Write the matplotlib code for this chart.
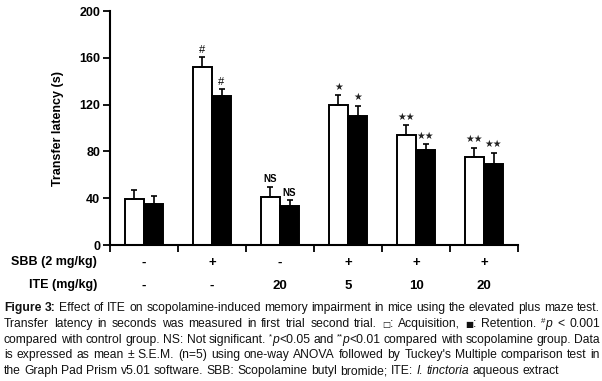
import numpy as np
import matplotlib.pyplot as plt
from matplotlib.transforms import blended_transform_factory

# values (transfer latency, s)
groups = ['Control', 'SBB', 'ITE 20', 'SBB+ITE 5', 'SBB+ITE 10', 'SBB+ITE 20']
acquisition = [39, 152, 41, 120, 94, 75]
acquisition_sem = [8, 8.5, 9, 8, 8.5, 8]
retention = [35, 127, 33, 110, 81, 69]
retention_sem = [7, 6, 5.5, 9, 5, 10]
acq_marks = ['', '#', 'NS', '*', '**', '**']
ret_marks = ['', '#', 'NS', '*', '**', '**']
sbb_row = ['-', '+', '-', '+', '+', '+']
ite_row = ['-', '-', '20', '5', '10', '20']
yticks = [0, 40, 80, 120, 160, 200]

caption = [
    "Figure 3: Effect of ITE on scopolamine-induced memory impairment in mice using the elevated plus maze test.",
    "Transfer latency in seconds was measured in first trial second trial. \u25a1: Acquisition, \u25a0: Retention. #p < 0.001",
    "compared with control group. NS: Not significant. *p<0.05 and **p<0.01 compared with scopolamine group. Data",
    "is expressed as mean \u00b1 S.E.M. (n=5) using one-way ANOVA followed by Tuckey's Multiple comparison test in",
    "the Graph Pad Prism v5.01 software. SBB: Scopolamine butyl bromide; ITE: I. tinctoria aqueous extract",
]
special = {
    'Figure': [('Figure', 'bold')],
    '3:': [('3:', 'bold')],
    '\u25a1:': [('\u25a1', 'small'), (':', 'normal')],
    '\u25a0:': [('\u25a0', 'small'), (':', 'normal')],
    '#p': [('#', 'sup'), ('p', 'italic')],
    '*p<0.05': [('*', 'sup'), ('p', 'italic'), ('<0.05', 'normal')],
    '**p<0.01': [('**', 'sup'), ('p', 'italic'), ('<0.01', 'normal')],
    'I.': [('I.', 'italic')],
    'tinctoria': [('tinctoria', 'italic')],
}

W, H = 602, 381
plt.rcParams['font.family'] = ['Liberation Sans', 'DejaVu Sans']

fig = plt.figure(figsize=(W / 100, H / 100), dpi=100)


def fx(x):
    return x / W


def fy(y):
    return 1 - y / H


ax = fig.add_axes([fx(110), fy(245), (518 - 110) / W, (245 - 11) / H])
n = len(groups)
x = np.arange(n) + 0.5
bw = 0.28
err_kw = dict(ecolor='black', elinewidth=1.2, capsize=2.5, capthick=1.2)
ax.bar(x - bw / 2, acquisition, bw, color='white', edgecolor='black', linewidth=1.4,
       yerr=[[0] * n, acquisition_sem], error_kw=err_kw)
ax.bar(x + bw / 2, retention, bw, color='black', edgecolor='black', linewidth=1.4,
       yerr=[[0] * n, retention_sem], error_kw=err_kw)


def draw_mark(xpos, top, mark):
    if not mark:
        return
    if '*' in mark:
        ax.text(xpos, top + 3, '\u2605' * len(mark), ha='center', va='bottom',
                fontsize=7, family='DejaVu Sans', color='#222222')
    elif mark == 'NS':
        ax.text(xpos, top + 2, mark, ha='center', va='bottom', fontsize=7, weight='bold')
    else:
        ax.text(xpos, top + 2, mark, ha='center', va='bottom', fontsize=8)


for i in range(n):
    draw_mark(x[i] - bw / 2, acquisition[i] + acquisition_sem[i], acq_marks[i])
    draw_mark(x[i] + bw / 2, retention[i] + retention_sem[i], ret_marks[i])

ax.set_xlim(0, n)
ax.set_ylim(0, 200)
ax.set_yticks(yticks)
ax.set_xticks(np.arange(n + 1))
ax.set_xticklabels([])
ax.spines['top'].set_visible(False)
ax.spines['right'].set_visible(False)
ax.spines['left'].set_linewidth(1.5)
ax.spines['bottom'].set_linewidth(1.5)
ax.tick_params(axis='both', direction='out', length=5, width=1.3)
ax.tick_params(axis='y', labelsize=9, pad=2)
for lab in ax.get_yticklabels():
    lab.set_fontweight('bold')
ax.set_ylabel('Transfer latency (s)', fontsize=9, weight='bold', labelpad=11)

# treatment rows under the axis, centred on each group
fig.text(fx(97), fy(262), 'SBB (2 mg/kg)', ha='right', va='center', fontsize=9, weight='bold')
fig.text(fx(97), fy(285), 'ITE (mg/kg)', ha='right', va='center', fontsize=9, weight='bold')
row_tr = blended_transform_factory(ax.transData, fig.transFigure)
for i in range(n):
    ax.text(x[i], fy(263), sbb_row[i], transform=row_tr, ha='center', va='center',
            fontsize=9.5, weight='bold')
    ax.text(x[i], fy(286), ite_row[i], transform=row_tr, ha='center', va='center',
            fontsize=9.5, weight='bold')

# justified caption
cap_fs = 8.7
renderer = fig.canvas.get_renderer()
left, right = 4, 600
for li, line in enumerate(caption):
    base = 311 + 15.8 * li
    words = []
    for w in line.split(' '):
        segs = special.get(w, [(w, 'normal')])
        objs = []
        for s, style in segs:
            kw = dict(fontsize=cap_fs, va='baseline', ha='left', color='#111111')
            if style == 'bold':
                kw['weight'] = 'bold'
            elif style == 'italic':
                kw['style'] = 'italic'
            elif style == 'sup':
                kw['fontsize'] = cap_fs * 0.65
            elif style == 'small':
                kw['fontsize'] = cap_fs * 0.7
                kw['family'] = 'DejaVu Sans'
            t = fig.text(0, fy(base), s, **kw)
            objs.append((t, style))
        words.append(objs)
    widths = []
    for objs in words:
        ws = [t.get_window_extent(renderer=renderer).width for t, _ in objs]
        widths.append(ws)
    total = sum(sum(ws) for ws in widths)
    if li < len(caption) - 1:
        gap = (right - left - total) / (len(words) - 1)
    else:
        gap = 3.3
    cur = left
    for objs, ws in zip(words, widths):
        for (t, style), w in zip(objs, ws):
            yy = base - 4 if style == 'sup' else base
            t.set_position((fx(cur), fy(yy)))
            cur += w
        cur += gap

fig.savefig('out.png', dpi=100)
